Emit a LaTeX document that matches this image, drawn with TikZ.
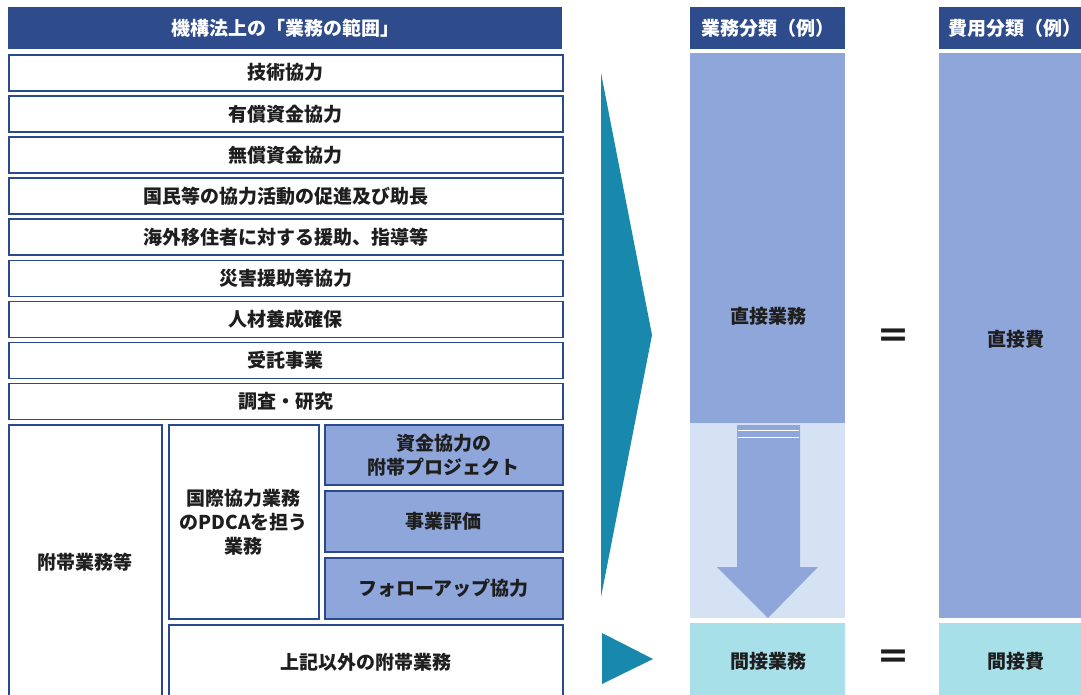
\documentclass[tikz,border=0pt]{standalone}
\usepackage{fontspec}
\setmainfont{Noto Sans CJK JP}
\definecolor{navy}{HTML}{2E4B8B}
\definecolor{edge}{HTML}{2B4A8E}
\definecolor{bluef}{HTML}{8FA6DA}
\definecolor{lightf}{HTML}{D4E2F4}
\definecolor{cyanf}{HTML}{A8E0EA}
\definecolor{tealf}{HTML}{1888AC}
\definecolor{txt}{HTML}{1E1E1E}
\begin{document}
\begin{tikzpicture}[x=1pt,y=-1pt,
  lbl/.style={font=\bfseries\fontsize{19}{24}\selectfont, text=txt, inner sep=0pt},
  hdr/.style={fill=navy, draw=none, text=white, font=\bfseries\fontsize{19}{22}\selectfont, anchor=north west, inner sep=0pt},
  rowbox/.style={draw=edge, line width=1.6pt, fill=white, anchor=north west, inner sep=0pt,
     minimum width=554, minimum height=36, font=\bfseries\fontsize{19}{24}\selectfont, text=txt, align=center},
  cell/.style={draw=edge, line width=1.6pt, fill=white, inner sep=0pt,
     font=\bfseries\fontsize{19}{24}\selectfont, text=txt, align=center},
  bcell/.style={cell, fill=bluef},
  eqs/.style={font=\bfseries\fontsize{34}{36}\selectfont, text=txt, inner sep=0pt}
]
\useasboundingbox (0,0) rectangle (1081,694);
\fill[white] (0,0) rectangle (1081,694);

% left header
\node[hdr, minimum width=554, minimum height=42] (h1) at (8,7) {機構法上の「業務の範囲」};

% rows
\node[rowbox] (r1) at (8,54.0)  {技術協力};
\node[rowbox] (r2) at (8,95.1)  {有償資金協力};
\node[rowbox] (r3) at (8,136.2) {無償資金協力};
\node[rowbox] (r4) at (8,177.3) {国民等の協力活動の促進及び助長};
\node[rowbox] (r5) at (8,218.4) {海外移住者に対する援助、指導等};
\node[rowbox] (r6) at (8,259.5) {災害援助等協力};
\node[rowbox] (r7) at (8,300.6) {人材養成確保};
\node[rowbox] (r8) at (8,341.7) {受託事業};
\node[rowbox] (r9) at (8,382.8) {調査・研究};

% bottom block
\node[cell, anchor=north west, minimum width=153, minimum height=274] (fut) at (8,424) {附帯業務等};
\node[cell, anchor=north west, minimum width=150, minimum height=194] (pdca) at (168,424) {国際協力業務\\のPDCAを担う\\業務};
\node[bcell, anchor=north west, minimum width=238, minimum height=60] (shikin) at (324,424) {資金協力の\\附帯プロジェクト};
\node[bcell, anchor=north west, minimum width=238, minimum height=61] (hyoka) at (324,490) {事業評価};
\node[bcell, anchor=north west, minimum width=238, minimum height=61] (follow) at (324,557) {フォローアップ協力};
\node[cell, anchor=north west, minimum width=394, minimum height=74] (other) at (168,624) {上記以外の附帯業務};

% teal pointers
\fill[tealf] (601,73) -- (652,335) -- (601,597) -- cycle;
\fill[tealf] (602,633) -- (653,659) -- (602,684) -- cycle;

% middle column
\node[hdr, minimum width=155, minimum height=42] (h2) at (690,7) {業務分類（例）};
\fill[bluef] (690,53) rectangle (845,423);
\fill[lightf] (690,423) rectangle (845,618);
\fill[cyanf] (690,623) rectangle (845,698);
\fill[bluef] (737,425) -- (800,425) -- (800,567) -- (818,567) -- (768,618) -- (717,567) -- (737,567) -- cycle;
\draw[white, line width=0.8pt] (738,430) -- (799,430);
\draw[white, line width=0.8pt] (738,437) -- (799,437);
\node[lbl] (choku) at (768,316) {直接業務};
\node[lbl] (kan) at (768,661) {間接業務};

% equals
\node[eqs] (eq1) at (893,339) {＝};
\node[eqs] (eq2) at (893,660) {＝};

% right column
\node[hdr, minimum width=152, minimum height=42] (h3) at (939,7) {費用分類（例）};
\fill[bluef] (939,53) rectangle (1091,618);
\fill[cyanf] (939,623) rectangle (1091,698);
\node[lbl] (chokuhi) at (1016,339) {直接費};
\node[lbl] (kanhi) at (1016,661) {間接費};
\end{tikzpicture}
\end{document}
